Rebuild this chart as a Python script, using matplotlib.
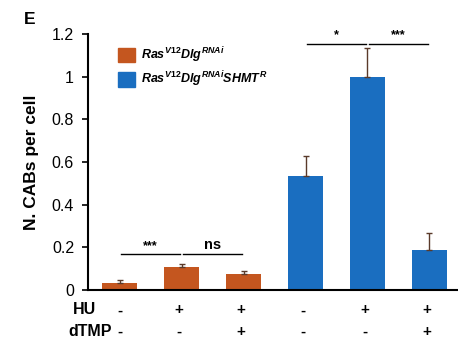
import matplotlib
matplotlib.use("Agg")
import matplotlib.pyplot as plt

plt.rcParams['font.family'] = ['Liberation Sans', 'DejaVu Sans']
plt.rcParams['mathtext.fontset'] = 'custom'
plt.rcParams['mathtext.it'] = 'Liberation Sans:bold:italic'
plt.rcParams['mathtext.rm'] = 'Liberation Sans:bold'

values = [0.035, 0.106, 0.074, 0.535, 1.0, 0.187]
errors = [0.010, 0.016, 0.016, 0.095, 0.135, 0.079]
groups = ['RNAi', 'RNAi', 'RNAi', 'SHMT', 'SHMT', 'SHMT']
hu = ['-', '+', '+', '-', '+', '+']
dtmp = ['-', '-', '+', '-', '-', '+']
yticks = [0, 0.2, 0.4, 0.6, 0.8, 1, 1.2]
ytick_labels = ['0', '0.2', '0.4', '0.6', '0.8', '1', '1.2']
# (bar a, bar b, height, label)
sig = [(0, 1, 0.169, '***'), (1, 2, 0.169, 'ns'), (3, 4, 1.155, '*'), (4, 5, 1.155, '***')]

orange = '#C4561F'
blue = '#1A6EC0'
colors = {'RNAi': orange, 'SHMT': blue}

fig = plt.figure(figsize=(4.58, 3.39), dpi=100)
ax = fig.add_axes([0.192, 0.1445, 0.808, 0.7555])

x = list(range(len(values)))
ax.bar(x, values, width=0.56, color=[colors[g] for g in groups])
ax.errorbar(x, values, yerr=[[0] * len(errors), errors], fmt='none',
            ecolor='#5a3a2a', elinewidth=1, capsize=2, capthick=1)

ax.set_xlim(-0.51, 5.46)
ax.set_ylim(0, 1.2)
ax.set_yticks(yticks)
ax.set_yticklabels(ytick_labels)
ax.set_xticks([])
ax.tick_params(axis='y', direction='out', length=4, width=1.2, labelsize=11.5, pad=6)
ax.spines['top'].set_visible(False)
ax.spines['right'].set_visible(False)
ax.spines['left'].set_linewidth(1.5)
ax.spines['bottom'].set_linewidth(1.5)
ax.set_ylabel('N. CABs per cell', fontsize=12.5, fontweight='bold', labelpad=9)

for a, b, h, lab in sig:
    ax.plot([a + 0.03, b - 0.03], [h, h], color='black', lw=1)
    ax.text((a + b) / 2, h + 0.01, lab, ha='center', va='bottom',
            fontsize=9 if lab != 'ns' else 10.5, fontweight='bold')

# condition rows below the axis
for i in x:
    xi = i if i == 0 else i - 0.04
    ax.text(xi, -0.095, hu[i], ha='center', va='center', fontsize=11,
            fontweight='bold', clip_on=False)
    ax.text(xi, -0.197, dtmp[i], ha='center', va='center', fontsize=11,
            fontweight='bold', clip_on=False)
fig.text(84 / 458, 1 - 310 / 339, 'HU', ha='center', va='center', fontsize=11.5, fontweight='bold')
fig.text(90 / 458, 1 - 332 / 339, 'dTMP', ha='center', va='center', fontsize=11.5, fontweight='bold')

# legend
handles = [plt.Rectangle((0, 0), 1, 1, color=orange), plt.Rectangle((0, 0), 1, 1, color=blue)]
labels = [r'$Ras^{V12}Dlg^{RNAi}$', r'$Ras^{V12}Dlg^{RNAi}SHMT^{R}$']
ax.legend(handles, labels, loc='upper left', bbox_to_anchor=(0.05, 1.0), frameon=False,
          fontsize=9, handlelength=1.4, handleheight=1.4, handletextpad=0.5, labelspacing=0.4)

fig.text(30 / 458, 1 - 19 / 339, 'E', ha='center', va='center', fontsize=12.5, fontweight='bold')

fig.savefig('out.png', dpi=100)
